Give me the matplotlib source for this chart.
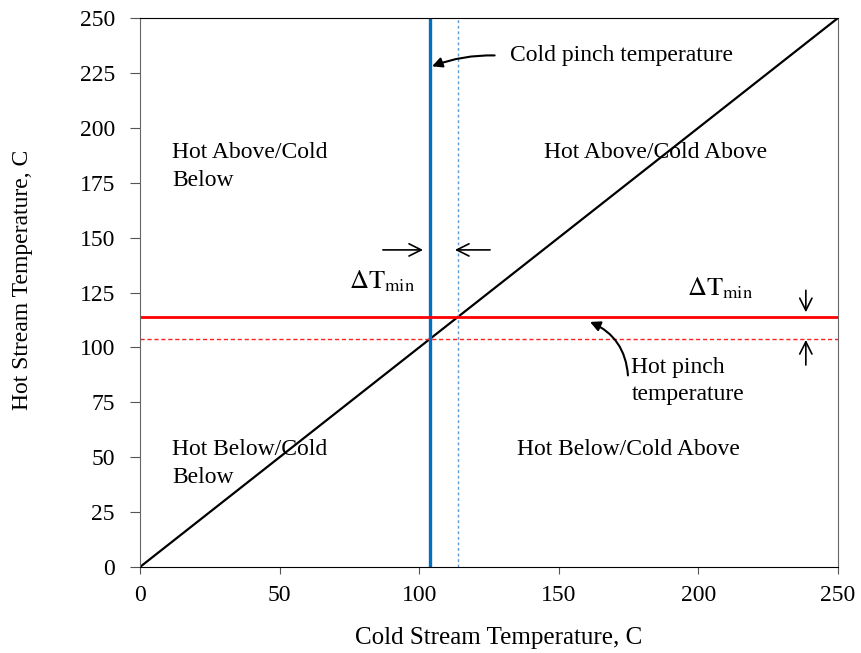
import matplotlib.pyplot as plt

plt.rcParams['font.family'] = ['Liberation Serif', 'DejaVu Serif']
plt.rcParams['mathtext.fontset'] = 'stix'

# data
diag_x = [0, 250]
diag_y = [0, 250]
cold_pinch = 104
hot_pinch = 114
ticks = [0, 25, 50, 75, 100, 125, 150, 175, 200, 225, 250]
xticks = [0, 50, 100, 150, 200, 250]

fig = plt.figure(figsize=(8.62, 6.53), dpi=100)
ax = fig.add_axes([0.1624, 0.1317, 0.8097, 0.8407])

ax.plot(diag_x, diag_y, color='black', lw=1.6)
ax.axvline(cold_pinch, color='#0070C0', lw=2.4)
ax.axvline(hot_pinch, color='#5B9BD5', lw=1.0, ls=(0, (2, 2)))
ax.axhline(hot_pinch, color='#FF0000', lw=2.0)
ax.axhline(cold_pinch, color='#FF2020', lw=1.0, ls=(0, (3, 2)))

ax.set_xlim(0, 250)
ax.set_ylim(0, 250)
ax.set_xticks(xticks)
ax.set_yticks(ticks)
ax.tick_params(labelsize=17, direction='out', color='#555555')
ax.tick_params(axis='x', length=5, pad=8)
ax.tick_params(axis='y', length=7, pad=11)
for s in ['left', 'right']:
    ax.spines[s].set_color('#666666')
ax.set_xlabel('Cold Stream Temperature, C', fontsize=18)
ax.set_ylabel('Hot Stream Temperature, C', fontsize=17)
ax.xaxis.set_label_coords(0.514, -0.11)
ax.yaxis.set_label_coords(-0.153, 0.523)

fs = 17
ax.text(11.5, 193.5, 'Hot Above/Cold\nBelow', fontsize=fs, va='top', linespacing=1.45)
ax.text(144.7, 193.5, 'Hot Above/Cold Above', fontsize=fs, va='top')
ax.text(11.5, 58.5, 'Hot Below/Cold\nBelow', fontsize=fs, va='top', linespacing=1.45)
ax.text(135, 58.5, 'Hot Below/Cold Above', fontsize=fs, va='top')

ax.annotate('Cold pinch temperature', xy=(104.6, 228), xytext=(132.5, 233),
            fontsize=fs, va='center',
            arrowprops=dict(arrowstyle='-|>', color='black', lw=1.5,
                            connectionstyle='arc3,rad=0.12', shrinkA=9, shrinkB=0,
                            mutation_scale=15, relpos=(0, 0.45)))
ax.annotate('Hot pinch\ntemperature', xy=(161.2, 111.6), xytext=(176, 95.5),
            fontsize=fs, va='top', linespacing=1.35,
            arrowprops=dict(arrowstyle='-|>', color='black', lw=1.5,
                            connectionstyle='arc3,rad=0.3', shrinkA=0, shrinkB=0,
                            mutation_scale=15, relpos=(-0.03, 0.62)))

ax.text(75, 130, r'$\Delta\mathrm{T}_{\mathrm{min}}$', fontsize=19, va='center')
ax.text(196, 127, r'$\Delta\mathrm{T}_{\mathrm{min}}$', fontsize=19, va='center')

arr = dict(arrowstyle='->', color='black', lw=1.2, mutation_scale=22, shrinkA=0, shrinkB=0)
ax.annotate('', xy=(101.4, 144.4), xytext=(87, 144.4), arrowprops=arr)
ax.annotate('', xy=(112.8, 144.4), xytext=(125.4, 144.4), arrowprops=arr)
ax.annotate('', xy=(238.5, 116), xytext=(238.5, 126), arrowprops=arr)
ax.annotate('', xy=(238.5, 103.4), xytext=(238.5, 92), arrowprops=arr)

fig.savefig('out.png', dpi=100)
